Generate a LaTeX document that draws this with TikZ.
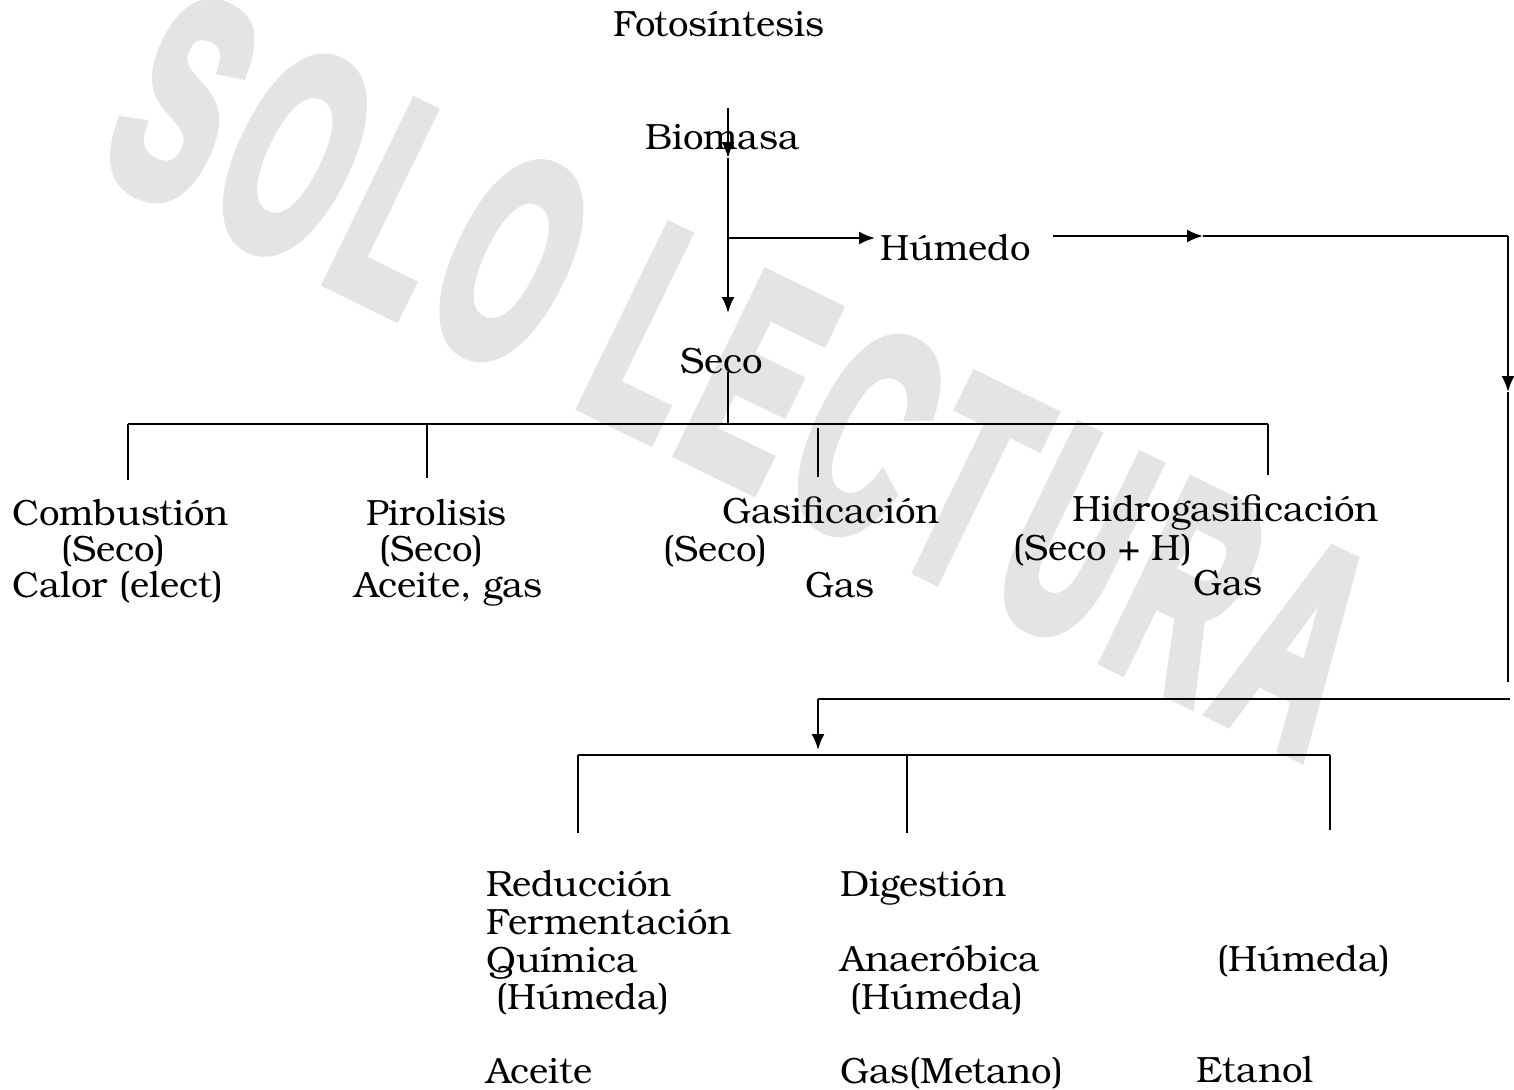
\documentclass[tikz,border=0pt]{standalone}
\usepackage{fontspec}
\setmainfont{texgyrebonum}[Extension=.otf, UprightFont=*-regular, BoldFont=*-bold, ItalicFont=*-italic, BoldItalicFont=*-bolditalic]
\newfontfamily\wmfont{Liberation Sans}[LetterSpace=10, BoldFeatures={FakeBold=5}]
\usetikzlibrary{arrows.meta}
\definecolor{wm}{RGB}{228,228,228}
\tikzset{
  lbl/.style={anchor=base west, inner sep=0pt, font=\fontsize{36.5}{40}\selectfont},
  ln/.style={line width=2.2pt, black},
  arr/.style={ln, -{Latex[length=16pt,width=13pt]}},
}
\begin{document}
\begin{tikzpicture}[x=1pt,y=-1pt]
\useasboundingbox (0,0) rectangle (1514,1089);
\fill[white] (0,0) rectangle (1514,1089);
% watermark
\node[rotate=-26, text=wm, inner sep=0pt] (wmark) at (743,374)
  {\scalebox{0.53}[1]{\fontsize{286}{290}\wmfont\bfseries SOLO LECTURA}};

% top texts
\node[lbl] (fotos) at (613,37) {Fotosíntesis};
\node[lbl] (bio) at (645,149) {Biomasa};
\node[lbl] (hum) at (880,260) {Húmedo};
\node[lbl] (seco) at (680,373) {Seco};

% row of dry processes
\node[lbl] (comb) at (12,525) {Combustión};
\node[lbl] (comb2) at (61,561) {(Seco)};
\node[lbl] (comb3) at (12,597) {Calor (elect)};
\node[lbl] (piro) at (366,525) {Pirolisis};
\node[lbl] (piro2) at (379,561) {(Seco)};
\node[lbl] (piro3) at (354,597) {Aceite, gas};
\node[lbl] (gasi) at (722,523) {Gasificación};
\node[lbl] (gasi2) at (663,561) {(Seco)};
\node[lbl] (gasi3) at (805,597) {Gas};
\node[lbl] (hidro) at (1072,521) {Hidrogasificación};
\node[lbl] (hidro2) at (1013,560) {(Seco + H)};
\node[lbl] (hidro3) at (1193,595) {Gas};

% wet processes
\node[lbl] (red1) at (486,896) {Reducción};
\node[lbl] (red2) at (486,934) {Fermentación};
\node[lbl] (red3) at (486,972) {Química};
\node[lbl] (red4) at (496,1009) {(Húmeda)};
\node[lbl] (red5) at (486,1083) {Aceite};
\node[lbl] (dig1) at (840,896) {Digestión};
\node[lbl] (dig2) at (840,971) {Anaeróbica};
\node[lbl] (dig3) at (850,1009) {(Húmeda)};
\node[lbl] (dig4) at (840,1083) {Gas(Metano)};
\node[lbl] (fer1) at (1217,971) {(Húmeda)};
\node[lbl] (fer2) at (1196,1082) {Etanol};

% coordinates of the connectors
\coordinate (top) at (728,108);
\coordinate (tipB) at (728,158);
\coordinate (br) at (728,238);
\coordinate (tipH) at (875,238);
\coordinate (tipS) at (728,313);
\coordinate (sb) at (728,372);
\coordinate (bus) at (728,424);
\coordinate (busL) at (128,424);
\coordinate (busR) at (1268,424);
\coordinate (vC) at (128,480);
\coordinate (vPt) at (427,424);
\coordinate (vP) at (427,478);
\coordinate (vGt) at (818,428);
\coordinate (vG) at (818,477);
\coordinate (vH) at (1268,475);
\coordinate (h1) at (1053,236);
\coordinate (hm) at (1203,236);
\coordinate (hc) at (1508,236);
\coordinate (hv) at (1508,392);
\coordinate (hb) at (1508,682);
\coordinate (g1) at (1510,699);
\coordinate (g2) at (818,699);
\coordinate (g3) at (818,750);
\coordinate (b2L) at (578,755);
\coordinate (b2M) at (907,755);
\coordinate (b2R) at (1330,755);
\coordinate (e1) at (578,833);
\coordinate (e2) at (907,833);
\coordinate (e3) at (1330,830);

% connectors
\draw[arr] (top) -- (tipB);
\draw[arr] (tipB) -- (tipS);
\draw[arr] (br) -- (tipH);
\draw[ln] (sb) -- (bus);
\draw[ln] (busL) -- (busR);
\draw[ln] (busL) -- (vC);
\draw[ln] (vPt) -- (vP);
\draw[ln] (vGt) -- (vG);
\draw[ln] (busR) -- (vH);
\draw[arr] (h1) -- (hm);
\draw[ln] (hm) -- (hc);
\draw[arr] (hc) -- (hv);
\draw[ln] (hv) -- (hb);
\draw[ln] (g1) -- (g2);
\draw[arr] (g2) -- (g3);
\draw[ln] (b2L) -- (b2R);
\draw[ln] (b2L) -- (e1);
\draw[ln] (b2M) -- (e2);
\draw[ln] (b2R) -- (e3);
\end{tikzpicture}
\end{document}
